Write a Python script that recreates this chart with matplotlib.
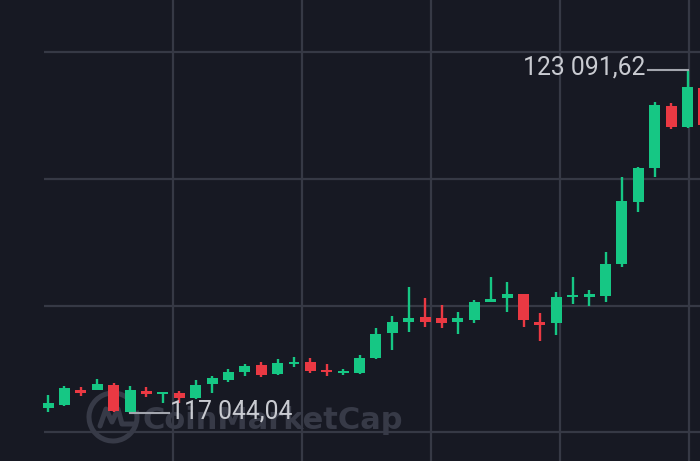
import matplotlib
matplotlib.use("Agg")
import matplotlib.pyplot as plt
from matplotlib.patches import Arc
from matplotlib.transforms import IdentityTransform
from matplotlib.lines import Line2D
import numpy as np

# ---- data (BTC/USD candles) ----
opens = [117132, 117185, 117450, 117450, 117538, 117062, 117432, 117379, 117397, 117308,
         117555, 117626, 117767, 117890, 117732, 117908, 117943, 117802, 117749, 117749,
         118014, 118455, 118649, 118737, 118719, 118649, 118684, 119001, 119072, 119142,
         118649, 118631, 119089, 119089, 119107, 119671, 120764, 121364, 122457, 122087,
         122774]
closes = [117220, 117485, 117397, 117555, 117079, 117450, 117379, 117414, 117308, 117538,
          117661, 117767, 117873, 117714, 117926, 117943, 117785, 117767, 117785, 118014,
          118437, 118649, 118719, 118649, 118631, 118719, 119001, 119054, 119142, 118684,
          118596, 119089, 119125, 119142, 119671, 120782, 121364, 122475, 122087, 122792,
          122122]
highs = [117361, 117520, 117502, 117643, 117573, 117520, 117502, 117414, 117432, 117626,
         117696, 117820, 117908, 117943, 117996, 118031, 118014, 117908, 117820, 118067,
         118543, 118754, 119266, 119072, 118948, 118825, 119036, 119442, 119354, 119142,
         118807, 119177, 119442, 119213, 119883, 121205, 121381, 122528, 122510, 123091.62,
         122810]
lows = [117062, 117167, 117344, 117450, 117062, 117044.04, 117326, 117220, 117220, 117291,
        117397, 117591, 117696, 117679, 117714, 117855, 117749, 117696, 117714, 117732,
        117996, 118155, 118472, 118560, 118543, 118437, 118631, 119001, 118825, 118560,
        118313, 118419, 118966, 118931, 119001, 119618, 120588, 121205, 122051, 122069,
        122069]

max_label = "123 091,62"
min_label = "117 044,04"

# ---- style ----
BG = "#171923"
GRID = "#363945"
GREEN = "#16c784"
RED = "#ea3943"
LABEL = "#c9cbd1"
LINE = "#a3a6ae"
WM = "#373a47"

fig = plt.figure(figsize=(7.0, 4.61), dpi=100)
fig.patch.set_facecolor(BG)
ax = fig.add_axes([0, 0, 1, 1])
ax.set_facecolor(BG)
for s in ax.spines.values():
    s.set_visible(False)
ax.set_xticks([])
ax.set_yticks([])

x = np.arange(len(opens))
o = np.array(opens, dtype=float)
c = np.array(closes, dtype=float)
h = np.array(highs, dtype=float)
l = np.array(lows, dtype=float)
cols = [GREEN if cc >= oo else RED for oo, cc in zip(o, c)]

ax.set_xlim(-2.93, 39.76)
ax.set_ylim(116197.7, 124326.1)

# grid
vgrid = [7.62, 15.49, 23.35, 31.2, 39.09]
hgrid = [123409, 121170, 118931, 116709]
for v in vgrid:
    ax.axvline(v, color=GRID, lw=1.6, zorder=1)
ax.hlines(hgrid, -0.24, 40, color=GRID, lw=1.6, zorder=1)

# watermark
ax.text(143, 461 - 429, "CoinMarketCap", transform=IdentityTransform(),
        fontsize=22, fontweight="bold", color=WM, family="DejaVu Sans",
        ha="left", va="baseline", zorder=2)
ax.add_patch(Arc((113, 461 - 417), 48, 48, theta1=55, theta2=375,
                 transform=IdentityTransform(), color=WM, lw=3.6, zorder=2))
wx = np.array([-13, -7, -1, 5, 9, 22]) + 113
wy = 461 - (np.array([-9, 8, -5, 8, -7, -7]) * -1 + 417)
ax.add_line(Line2D(wx, wy, transform=IdentityTransform(), color=WM, lw=3.6,
                   solid_joinstyle="round", solid_capstyle="round", zorder=2))

# candles
ax.vlines(x, l, h, colors=cols, lw=1.7, zorder=3)
ax.bar(x, np.abs(c - o), bottom=np.minimum(o, c), width=0.67, color=cols,
       linewidth=0, zorder=4)

# max / min annotations
imax = int(np.argmax(h))
imin = int(np.argmin(l))
ax.plot([36.6, imax], [h[imax], h[imax]], color=LINE, lw=1.5, zorder=5)
ax.text(36.45, h[imax] + 50, max_label, color=LABEL, fontsize=17.8,
        family=["Roboto", "DejaVu Sans"], ha="right", va="center", zorder=6)
ax.plot([imin, 7.35], [l[imin], l[imin]], color=LINE, lw=1.5, zorder=5)
ax.text(7.45, l[imin] + 30, min_label, color=LABEL, fontsize=17.8,
        family=["Roboto", "DejaVu Sans"], ha="left", va="center", zorder=6)

fig.savefig("out.png", dpi=100, facecolor=BG)
